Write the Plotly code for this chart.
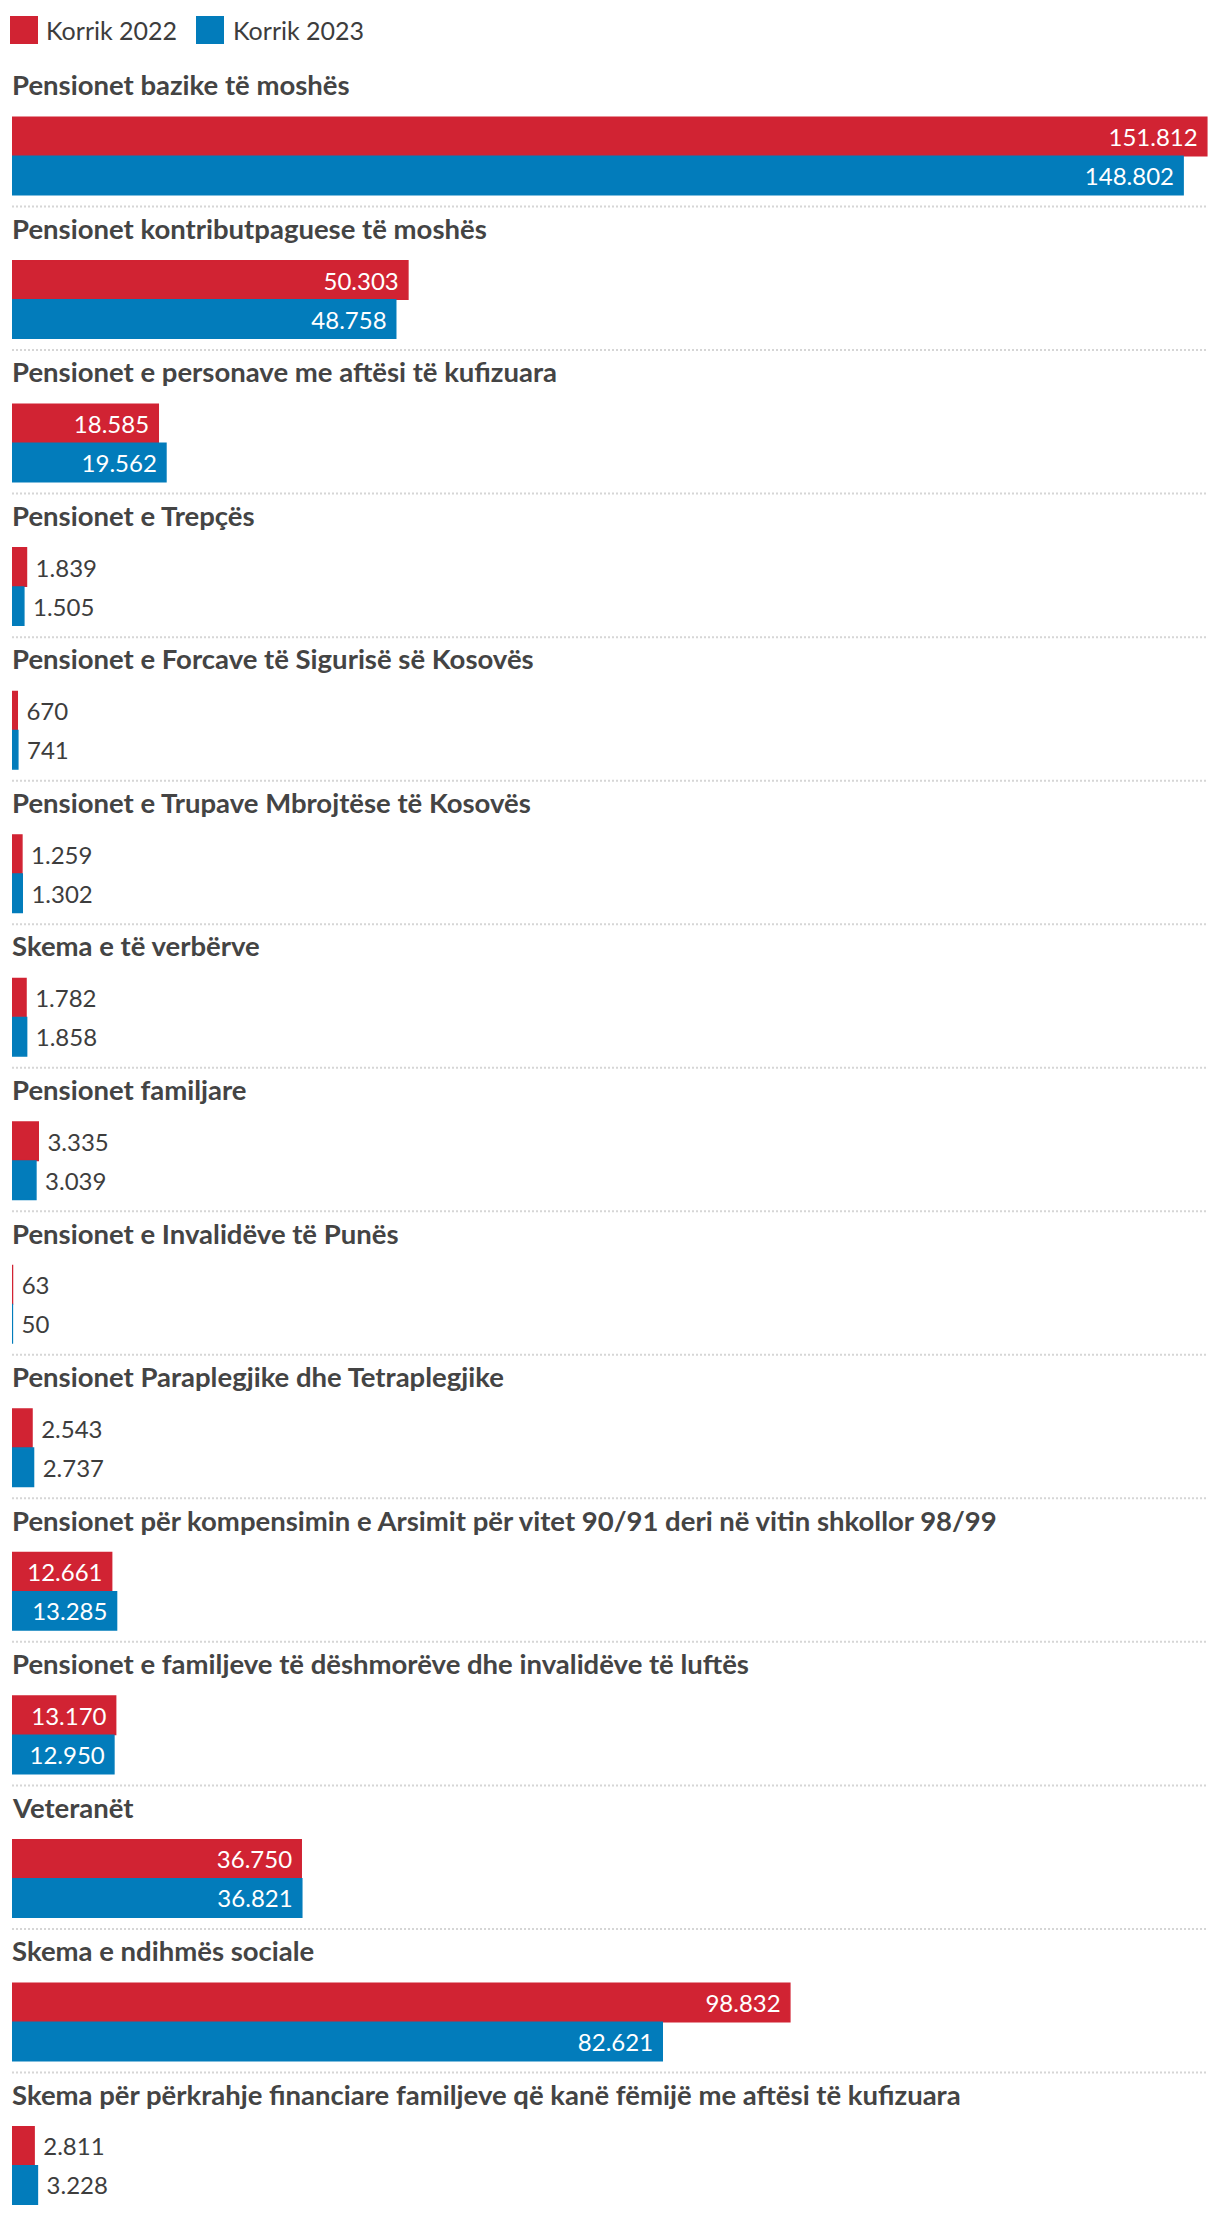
import plotly.graph_objects as go

categories = [
    "Pensionet bazike të moshës",
    "Pensionet kontributpaguese të moshës",
    "Pensionet e personave me aftësi të kufizuara",
    "Pensionet e Trepçës",
    "Pensionet e Forcave të Sigurisë së Kosovës",
    "Pensionet e Trupave Mbrojtëse të Kosovës",
    "Skema e të verbërve",
    "Pensionet familjare",
    "Pensionet e Invalidëve të Punës",
    "Pensionet Paraplegjike dhe Tetraplegjike",
    "Pensionet për kompensimin e Arsimit për vitet 90/91 deri në vitin shkollor 98/99",
    "Pensionet e familjeve të dëshmorëve dhe invalidëve të luftës",
    "Veteranët",
    "Skema e ndihmës sociale",
    "Skema për përkrahje financiare familjeve që kanë fëmijë me aftësi të kufizuara",
]
korrik_2022 = [151812, 50303, 18585, 1839, 670, 1259, 1782, 3335, 63, 2543, 12661, 13170, 36750, 98832, 2811]
korrik_2023 = [148802, 48758, 19562, 1505, 741, 1302, 1858, 3039, 50, 2737, 13285, 12950, 36821, 82621, 3228]
series_names = ["Korrik 2022", "Korrik 2023"]
colors = ["#d12333", "#027cbb"]

# page is 1220x2216; the browser body adds an 8px margin, so the figure is
# sized/positioned to compensate
BODY = 8
W, H = 1220 - BODY, 2216 - BODY
PLOT_L, PLOT_R, PLOT_T, PLOT_B = 12, 1208, 63, 2216   # page coords of plot area
ML, MR, MT, MB = PLOT_L - BODY, 1220 - PLOT_R, PLOT_T - BODY, 0
FONT = "Lato, 'Source Sans Pro', sans-serif"
TEXT = "#3d3d3d"
NB = "\u00a0"

fig = go.Figure()
bar_w = 0.268
offsets = [-0.122, -0.122 + bar_w + 0.004]
for name, vals, col, off in zip(series_names, [korrik_2022, korrik_2023], colors, offsets):
    fig.add_trace(go.Bar(
        name=name, y=categories, x=vals, orientation="h",
        marker=dict(color=col, line=dict(width=1.5, color=col)),
        width=bar_w, offset=off,
        texttemplate=NB + "%{x:,}" + NB, textposition="auto", textangle=0,
        constraintext="none", cliponaxis=False,
        insidetextanchor="end",
        insidetextfont=dict(color="white", size=24, family=FONT),
        outsidetextfont=dict(color=TEXT, size=24, family=FONT),
        showlegend=False, hoverinfo="x+name",
    ))

xmax = max(korrik_2022 + korrik_2023) * 1.001

shapes = []
for i in range(len(categories) - 1):
    shapes.append(dict(type="line", xref="paper", x0=0, x1=1, yref="y",
                       y0=i + 0.5, y1=i + 0.5,
                       line=dict(color="#d6d6d6", width=2, dash="2px,2px")))

annotations = []
for c in categories:
    annotations.append(dict(x=0, xref="paper", y=c, yref="y", yshift=50,
                            text="<b>" + c + "</b>", showarrow=False,
                            xanchor="left", yanchor="middle", xshift=-2,
                            font=dict(size=27.5, color="#444444", family=FONT)))

# manual legend (large square swatches), page coordinates converted to paper
plot_h = PLOT_B - PLOT_T
plot_w = PLOT_R - PLOT_L
def py(y):
    return 1 + (PLOT_T - y) / plot_h
def px(x):
    return (x - PLOT_L) / plot_w

leg_items = [(10, 44), (196, 231)]
for (sx, tx), name, col in zip(leg_items, series_names, colors):
    shapes.append(dict(type="rect", xref="paper", yref="paper",
                       x0=px(sx), x1=px(sx + 28), y0=py(16), y1=py(44),
                       fillcolor=col, line=dict(width=0)))
    annotations.append(dict(x=px(tx), xref="paper", y=py(30), yref="paper",
                            text=name, showarrow=False, xanchor="left", yanchor="middle",
                            font=dict(size=25, color=TEXT, family=FONT)))

fig.update_layout(
    width=W, height=H,
    margin=dict(l=ML, r=MR, t=MT, b=MB, pad=0),
    paper_bgcolor="white", plot_bgcolor="white",
    barmode="overlay",
    separators=",.",
    font=dict(family=FONT, color=TEXT),
    xaxis=dict(range=[0, xmax], visible=False, fixedrange=True),
    yaxis=dict(type="category", categoryorder="array", categoryarray=categories,
               range=[len(categories) - 0.5, -0.5], visible=False, fixedrange=True),
    shapes=shapes, annotations=annotations, showlegend=False,
)

fig.write_html("out.html")
